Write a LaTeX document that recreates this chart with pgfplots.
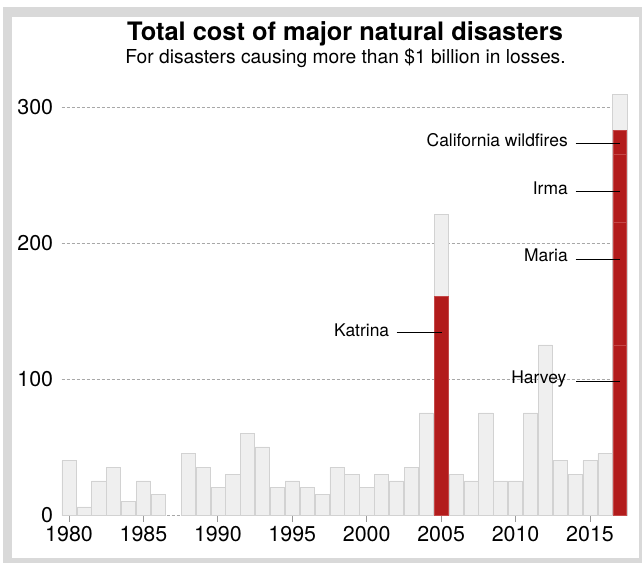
\documentclass[border=0pt]{standalone}
\usepackage{fontspec}
\setmainfont{TeX Gyre Heros}
\usepackage{pgfplots}
\pgfplotsset{compat=1.18}
\definecolor{frameGray}{HTML}{D9D9D9}
\definecolor{barGray}{HTML}{EFEFEF}
\definecolor{barEdge}{HTML}{D2D2D2}
\definecolor{katRed}{HTML}{B21C1C}
\definecolor{sepRed}{HTML}{C44848}
\definecolor{gridGray}{HTML}{A8A8A8}
\begin{document}
\begin{tikzpicture}
\begin{scope}[x=1bp,y=1bp]
\useasboundingbox (0,0) rectangle (642,563);
\fill[frameGray] (3,0) rectangle (642,556);
\fill[white] (12,5) rectangle (639,546);
\node[anchor=base, font=\fontsize{25.5}{28}\selectfont\bfseries] at (345,522) {Total cost of major natural disasters};
\node[anchor=base, font=\fontsize{19.3}{22}\selectfont] at (345.5,499) {For disasters causing more than \$1 billion in losses.};
\end{scope}
\begin{axis}[
  at={(61.6bp,48bp)}, anchor=south west,
  width=565.6bp, height=421.6bp, scale only axis,
  xmin=1979.5, xmax=2017.5, ymin=0, ymax=310,
  axis line style={draw=none},
  xtick={1980,1985,...,2015},
  ytick={0,100,200,300},
  ytick style={draw=none},
  xtick style={draw=gray!80, line width=0.9bp},
  xtick pos=bottom, tick align=outside,
  major tick length=7bp,
  ymajorgrids,
  grid style={gridGray, line width=0.8bp, dash pattern=on 3bp off 2bp},
  tick label style={font=\fontsize{21.5}{24}\selectfont},
  /pgf/number format/assume math mode=true,
  /pgf/number format/1000 sep={},
  xticklabel style={yshift=-1bp},
  yticklabel style={xshift=2bp},
  clip=false,
]
% gray totals
\addplot[ybar, bar width=0.95, bar shift=0pt, fill=barGray, draw=barEdge, line width=0.6bp] coordinates {
(1980,40) (1981,6) (1982,25) (1983,35) (1984,10) (1985,25) (1986,15)
(1988,45) (1989,35) (1990,20) (1991,30) (1992,60) (1993,50) (1994,20)
(1995,25) (1996,20) (1997,15) (1998,35) (1999,30) (2000,20) (2001,30)
(2002,25) (2003,35) (2004,75) (2005,221) (2006,30) (2007,25) (2008,75)
(2009,25) (2010,25) (2011,75) (2012,125) (2013,40) (2014,30) (2015,40)
(2016,45) (2017,309)
};
% Katrina and California wildfires (top of 2017 red stack)
\addplot[ybar, bar width=0.93, bar shift=0pt, fill=katRed, draw=sepRed, line width=0.6bp] coordinates {(2005,161) (2017,283)};
% Irma top
\addplot[ybar, bar width=0.93, bar shift=0pt, fill=katRed, draw=sepRed, line width=0.6bp] coordinates {(2017,265)};
% Maria top
\addplot[ybar, bar width=0.93, bar shift=0pt, fill=katRed, draw=sepRed, line width=0.6bp] coordinates {(2017,215)};
% Harvey
\addplot[ybar, bar width=0.93, bar shift=0pt, fill=katRed, draw=sepRed, line width=0.6bp] coordinates {(2017,125)};
% annotations
\tikzset{lab/.style={anchor=base east, inner sep=0pt, font=\fontsize{17.5}{20}\selectfont}}
\node[lab] at (axis cs:2001.52,131.6) {Katrina};
\draw[black, line width=1bp] (axis cs:2002.01,134.3) -- (axis cs:2005.03,134.3);
\node[lab] at (axis cs:2013.52,270.8) {California wildfires};
\draw[black, line width=1bp] (axis cs:2014.04,273.3) -- (axis cs:2017.03,273.3);
\node[lab] at (axis cs:2013.52,235.8) {Irma};
\draw[black, line width=1bp] (axis cs:2014.04,238.2) -- (axis cs:2017.03,238.2);
\node[lab] at (axis cs:2013.52,186.3) {Maria};
\draw[black, line width=1bp] (axis cs:2014.04,188.2) -- (axis cs:2017.03,188.2);
\node[lab] at (axis cs:2013.43,96.8) {Harvey};
\draw[black, line width=1bp] (axis cs:2014.06,98.5) -- (axis cs:2017.03,98.5);
\end{axis}
\end{tikzpicture}
\end{document}
